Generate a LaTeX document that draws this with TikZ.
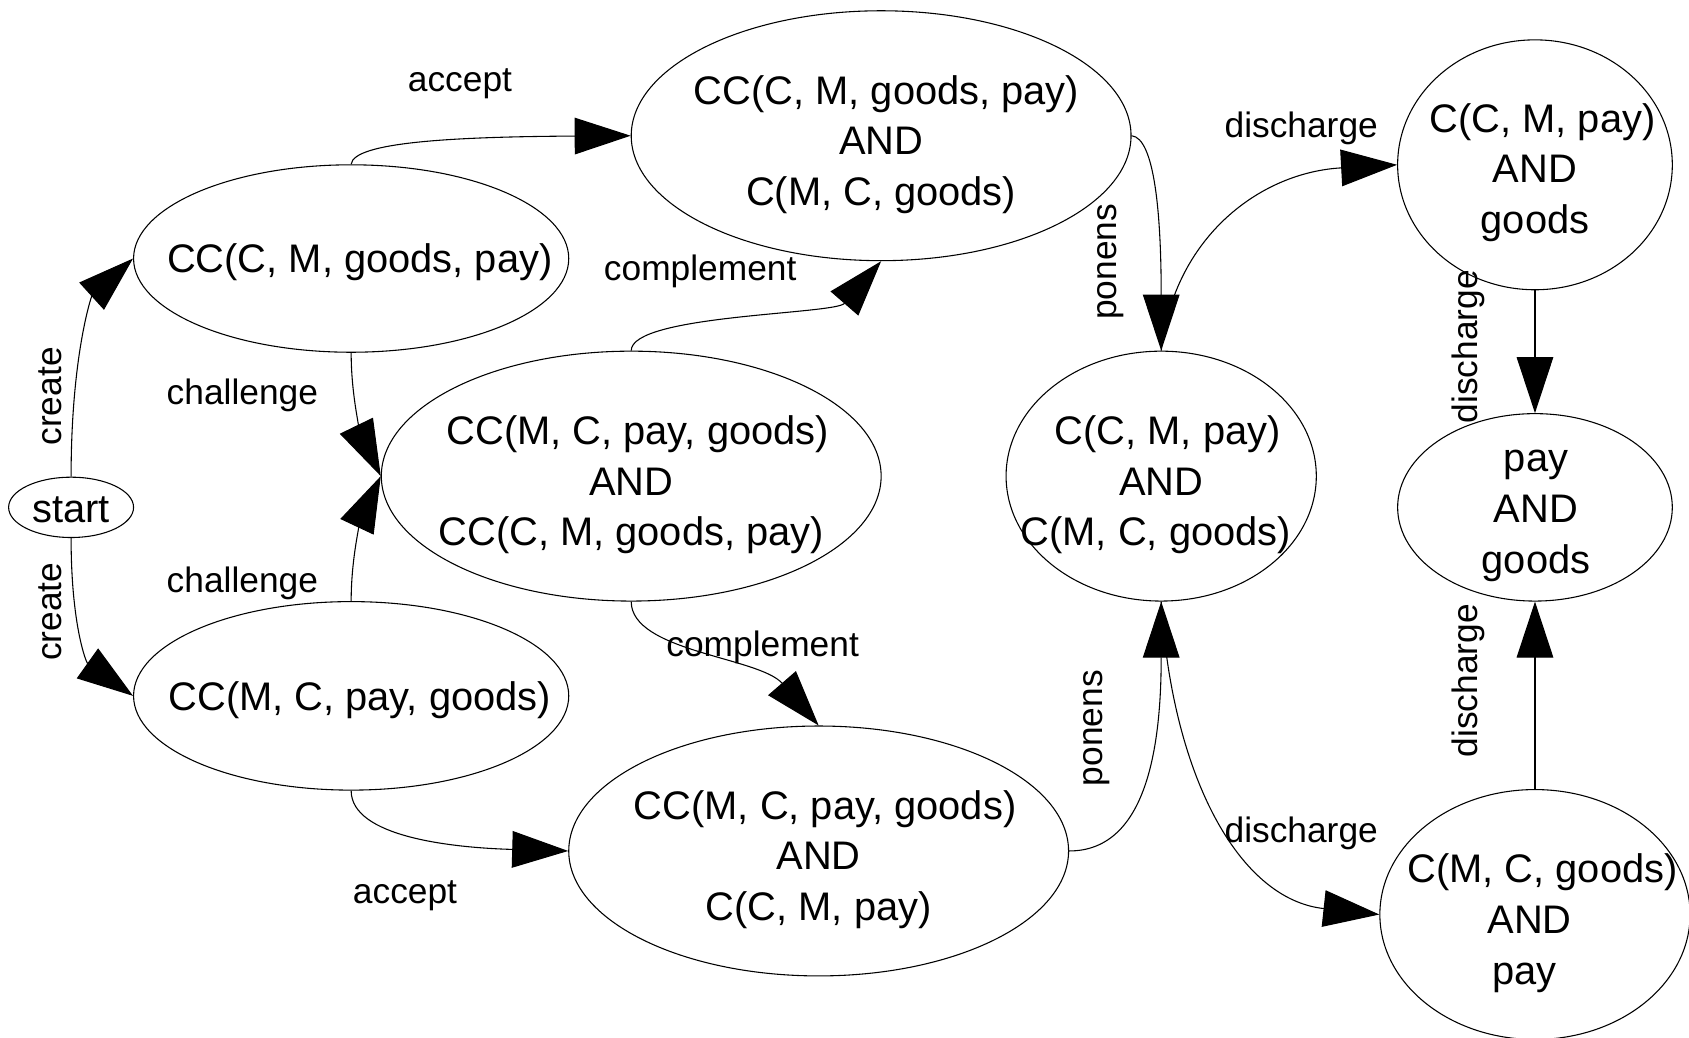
\documentclass[tikz,border=0pt]{standalone}
\usepackage{fontspec}
\setmainfont{Liberation Sans}
\usetikzlibrary{shapes.geometric,arrows.meta}
\newcommand\lsh[2]{\mbox{\kern#1pt #2}}
\newcommand\rsh[2]{\mbox{#2\kern#1pt}}
\begin{document}
\begin{tikzpicture}[x=0.5pt,y=-0.5pt,
  ell/.style={ellipse,draw,line width=0.5pt,inner sep=0pt},
  ntxt/.style={align=center,font=\fontsize{18.5pt}{23.5pt}\selectfont,inner sep=0pt},
  elab/.style={font=\fontsize{16.4pt}{19pt}\selectfont,inner sep=0pt},
  edge/.style={line width=0.5pt,-{Triangle[length=26pt,width=17pt]}}]
\fill[white] (0,0) rectangle (1568,963);
\useasboundingbox (0,0) rectangle (1568,963);
% nodes
\node[ell,minimum width=58pt,minimum height=28pt] (start) at (66,471) {};
\node[ell,minimum width=202pt,minimum height=87pt] (A) at (326,240) {};
\node[ell,minimum width=202pt,minimum height=87.5pt] (B) at (326,646) {};
\node[ell,minimum width=232pt,minimum height=116pt] (D) at (818,126) {};
\node[ell,minimum width=232pt,minimum height=116pt] (E) at (586,442) {};
\node[ell,minimum width=232pt,minimum height=116pt] (F) at (760,790) {};
\node[ell,minimum width=144pt,minimum height=116pt] (G) at (1078,442) {};
\node[ell,minimum width=127.5pt,minimum height=116pt] (H) at (1425,153) {};
\node[ell,minimum width=127.5pt,minimum height=87pt] (I) at (1425,471) {};
\node[ell,minimum width=144pt,minimum height=116pt] (J) at (1425,849) {};
% texts
\node[ntxt] (startt) at (66,473) {start};
\node[ntxt] (At) at (334,243) {CC(C, M, goods, pay)};
\node[ntxt] (Bt) at (334,650) {CC(M, C, pay, goods)};
\node[ntxt] (Dt) at (818,134) {\lsh{5}{CC(C, M, goods, pay)}\\AND\\C(M, C, goods)};
\node[ntxt] (Et) at (586,450) {\lsh{6}{CC(M, C, pay, goods)}\\AND\\CC(C, M, goods, pay)};
\node[ntxt] (Ft) at (760,798) {\lsh{6}{CC(M, C, pay, goods)}\\AND\\C(C, M, pay)};
\node[ntxt] (Gt) at (1078,450) {\lsh{6}{C(C, M, pay)}\\AND\\\rsh{5}{C(M, C, goods)}};
\node[ntxt] (Ht) at (1425,160) {\lsh{7}{C(C, M, pay)}\\AND\\goods};
\node[ntxt] (It) at (1426,479) {pay\\AND\\goods};
\node[ntxt] (Jt) at (1425,857) {\lsh{7}{C(M, C, goods)}\\\rsh{5}{AND}\\\rsh{10}{pay}};
% edges
\draw[edge] (start.north) .. controls (66,330) and (85,275) .. (A.west);
\draw[edge] (start.south) .. controls (66,580) and (80,615) .. (B.west);
\draw[edge] (A.north) .. controls (328,132) and (420,127) .. (D.west);
\draw[edge] (A.south) .. controls (326,375) and (338,410) .. (E.west);
\draw[edge] (B.north) .. controls (326,510) and (338,475) .. (E.west);
\draw[edge] (E.north) .. controls (586,292) and (775,292) .. (D.south);
\draw[edge] (E.south) .. controls (586,605) and (705,610) .. (F.north);
\draw[edge] (B.south) .. controls (326,777) and (420,787) .. (F.west);
\draw[edge] (D.east) .. controls (1072,128) and (1078,200) .. (G.north);
\draw[edge] (F.east) .. controls (1062,790) and (1078,700) .. (G.south);
\draw[edge] (G.north) .. controls (1090,220) and (1170,160) .. (H.west);
\draw[edge] (G.south) .. controls (1088,720) and (1150,835) .. (J.west);
\draw[edge] (H.south) -- (I.north);
\draw[edge] (J.north) -- (I.south);
% labels
\node[elab] (l1) at (427,78) {accept};
\node[elab,rotate=90] (l2) at (47,368) {create};
\node[elab,rotate=90] (l3) at (47,568) {create};
\node[elab] (l4) at (225,367) {challenge};
\node[elab] (l5) at (225,542) {challenge};
\node[elab] (l6) at (650,252) {complement};
\node[elab] (l7) at (708,601) {complement};
\node[elab] (l8) at (376,832) {accept};
\node[elab,rotate=90] (l9) at (1031,243) {ponens};
\node[elab,rotate=90] (l10) at (1018,676) {ponens};
\node[elab] (l11) at (1208,119) {discharge};
\node[elab] (l12) at (1208,774) {discharge};
\node[elab,rotate=90] (l13) at (1363,322) {discharge};
\node[elab,rotate=90] (l14) at (1363,632) {discharge};
\end{tikzpicture}
\end{document}
